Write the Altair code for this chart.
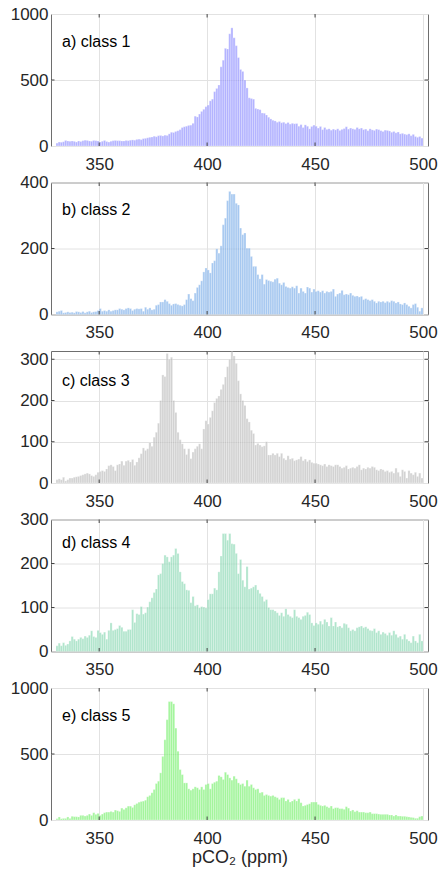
import altair as alt
import pandas as pd

# bin edges: 1-ppm bins from 330 to 500
bin_lo = list(range(330, 500))
bin_hi = [v + 1 for v in bin_lo]

counts_a = [
    22, 30, 28, 32, 42, 38, 36, 38, 35, 30,
    38, 34, 40, 44, 42, 38, 36, 42, 40, 38,
    30, 36, 42, 34, 30, 36, 40, 42, 40, 40,
    38, 38, 42, 40, 44, 46, 44, 50, 52, 48,
    56, 58, 62, 66, 68, 74, 70, 78, 80, 76,
    82, 80, 92, 104, 102, 110, 116, 124, 140, 146,
    150, 156, 158, 172, 226, 220, 242, 262, 278, 298,
    310, 342, 355, 412, 436, 462, 600, 650, 740, 735,
    850, 895, 820, 760, 670, 580, 565, 500, 440, 365,
    360, 355, 285, 280, 275, 250, 248, 235, 218, 205,
    195, 190, 180, 186, 176, 180, 170, 178, 166, 172,
    168, 170, 150, 162, 140, 160, 150, 130, 148, 158,
    150, 136, 148, 124, 140, 126, 130, 120, 128, 122,
    130, 118, 126, 132, 146, 128, 136, 130, 126, 140,
    130, 136, 124, 128, 116, 130, 122, 118, 128, 124,
    116, 110, 120, 118, 114, 104, 110, 100, 106, 92,
    96, 90, 86, 92, 78, 88, 72, 66, 72, 60,
]
counts_b = [
    8, 10, 12, 5, 6, 8, 6, 7, 5, 9,
    8, 6, 9, 5, 8, 10, 6, 8, 9, 12,
    18, 10, 12, 10, 14, 10, 12, 14, 14, 18,
    16, 14, 18, 20, 18, 12, 16, 18, 17, 18,
    10, 22, 16, 20, 14, 16, 28, 30, 38, 38,
    45, 40, 33, 28, 32, 33, 30, 28, 26, 30,
    45, 62, 48, 42, 65, 82, 90, 102, 129, 141,
    135, 126, 156, 163, 199, 186, 208, 272, 292, 345,
    373, 365, 365, 337, 332, 262, 242, 247, 201, 201,
    176, 146, 146, 121, 108, 121, 92, 106, 103, 101,
    99, 107, 110, 95, 90, 97, 85, 82, 80, 84,
    80, 87, 65, 80, 70, 65, 83, 80, 68, 77,
    70, 72, 68, 72, 65, 70, 68, 70, 77, 55,
    62, 65, 73, 60, 62, 60, 65, 58, 55, 56,
    53, 55, 45, 48, 45, 42, 45, 40, 35, 40,
    38, 40, 36, 40, 37, 42, 40, 35, 38, 32,
    30, 35, 30, 25, 20, 30, 33, 22, 10, 20,
]
counts_c = [
    8, 10, 8, 14, 5, 8, 12, 12, 14, 15,
    16, 18, 20, 22, 24, 22, 18, 16, 20, 26,
    28, 30, 28, 34, 42, 44, 40, 30, 44, 46,
    53, 43, 53, 55, 51, 57, 43, 51, 61, 71,
    85, 79, 83, 98, 89, 111, 123, 145, 200, 262,
    258, 314, 300, 305, 200, 171, 123, 105, 95, 83,
    69, 83, 59, 75, 83, 89, 95, 83, 131, 151,
    143, 159, 175, 195, 205, 211, 227, 239, 257, 282,
    300, 318, 308, 290, 248, 216, 200, 188, 156, 148,
    128, 120, 92, 96, 92, 88, 90, 100, 68, 68,
    72, 68, 72, 64, 72, 60, 56, 66, 58, 60,
    54, 56, 58, 64, 54, 58, 52, 56, 50, 48,
    48, 46, 44, 42, 46, 40, 44, 42, 40, 44,
    44, 40, 36, 38, 42, 34, 36, 38, 36, 40,
    44, 32, 36, 34, 38, 36, 40, 38, 32, 30,
    34, 32, 28, 30, 26, 28, 24, 36, 26, 16,
    32, 28, 12, 30, 24, 20, 26, 16, 24, 12,
]
counts_d = [
    13, 19, 13, 20, 14, 17, 24, 34, 28, 24,
    28, 32, 29, 35, 32, 37, 47, 34, 32, 48,
    43, 39, 44, 28, 48, 65, 48, 50, 52, 59,
    55, 46, 46, 50, 50, 95, 66, 86, 84, 102,
    85, 88, 101, 113, 122, 134, 142, 174, 177, 200,
    219, 215, 204, 215, 219, 234, 223, 181, 159, 154,
    140, 139, 111, 125, 104, 106, 99, 102, 101, 99,
    118, 131, 131, 144, 140, 181, 217, 268, 268, 253,
    268, 245, 244, 223, 177, 209, 162, 147, 193, 142,
    144, 147, 151, 140, 132, 125, 114, 118, 100, 95,
    95, 92, 88, 82, 88, 80, 97, 84, 80, 77,
    95, 80, 77, 73, 80, 82, 89, 84, 65, 59,
    65, 62, 69, 62, 73, 67, 58, 77, 58, 67,
    56, 58, 54, 64, 62, 54, 47, 50, 47, 54,
    56, 58, 54, 56, 52, 48, 47, 52, 43, 47,
    39, 44, 41, 37, 43, 37, 47, 39, 32, 35,
    28, 39, 28, 24, 20, 35, 24, 20, 39, 24,
]
counts_e = [
    10, 23, 10, 12, 12, 23, 12, 28, 25, 25,
    23, 35, 35, 30, 35, 45, 35, 55, 43, 50,
    35, 45, 55, 60, 60, 65, 60, 75, 70, 65,
    90, 80, 92, 105, 105, 95, 115, 125, 135, 140,
    143, 150, 176, 186, 206, 231, 276, 294, 357, 482,
    608, 760, 897, 897, 880, 696, 521, 382, 344, 281,
    281, 236, 226, 236, 251, 244, 231, 251, 231, 269,
    276, 236, 276, 286, 294, 337, 327, 307, 362, 344,
    319, 302, 332, 312, 281, 269, 276, 256, 302, 256,
    269, 244, 231, 236, 206, 211, 186, 193, 186, 181,
    186, 176, 169, 156, 169, 169, 144, 156, 136, 144,
    156, 144, 161, 131, 106, 111, 118, 123, 136, 136,
    136, 118, 111, 106, 111, 101, 93, 106, 86, 93,
    93, 86, 86, 81, 101, 90, 68, 76, 63, 70,
    60, 60, 60, 55, 55, 60, 48, 48, 48, 45,
    43, 43, 43, 43, 38, 38, 30, 38, 30, 30,
    28, 28, 25, 23, 20, 18, 13, 13, 25, 30,
]

counts = [counts_a, counts_b, counts_c, counts_d, counts_e]
labels = ["a) class 1", "b) class 2", "c) class 3", "d) class 4", "e) class 5"]
colors = ["#8080ff", "#6ba3e6", "#b4b4b4", "#7bd4aa", "#66ee5a"]
y_max = [1000, 400, 320, 300, 1000]
y_ticks = [[0, 500, 1000], [0, 200, 400], [0, 100, 200, 300], [0, 100, 200, 300], [0, 500, 1000]]
x_ticks = [350, 400, 450, 500]
x_title = "pCO\u2082 (ppm)"
label_y = [28, 27.5, 30, 23.5, 28]

W, H = 377, 132
FONT = "Liberation Sans"
TXT = "#262626"


def panel(i):
    df = pd.DataFrame({"lo": bin_lo, "hi": bin_hi, "n": counts[i]})
    xs = alt.Scale(domain=[330, 500], nice=False, zero=False)
    ys = alt.Scale(domain=[0, y_max[i]], nice=False)
    xaxis = alt.Axis(values=x_ticks, grid=True, labelPadding=10, labelFlush=False, format="d")
    bars = alt.Chart(df).mark_bar(
        color=colors[i], fillOpacity=0.6, stroke="white", strokeWidth=0.4, strokeOpacity=0.7,
        orient="vertical"
    ).encode(
        x=alt.X("lo:Q", scale=xs, axis=xaxis, title=x_title if i == 4 else None),
        x2="hi:Q",
        y=alt.Y("n:Q", scale=ys, axis=alt.Axis(values=y_ticks[i], grid=True, labelPadding=3, format="d"),
                title=None),
        y2=alt.datum(0),
    )
    tdf = pd.DataFrame({"label": [labels[i]]})
    text = alt.Chart(tdf).mark_text(
        align="left", baseline="middle", font=FONT, fontSize=16, color="#000000"
    ).encode(x=alt.value(11), y=alt.value(label_y[i]), text="label:N")

    xt = pd.DataFrame({"v": x_ticks[:-1]})
    tick_b = alt.Chart(xt).mark_rule(color="#444", strokeWidth=1).encode(
        x=alt.X("v:Q", scale=xs), y=alt.value(H), y2=alt.value(H - 3.5))
    tick_t = alt.Chart(xt).mark_rule(color="#444", strokeWidth=1).encode(
        x=alt.X("v:Q", scale=xs), y=alt.value(0), y2=alt.value(3.5))
    yt = pd.DataFrame({"v": [t for t in y_ticks[i] if 0 < t < y_max[i]]})
    tick_l = alt.Chart(yt).mark_rule(color="#444", strokeWidth=1).encode(
        y=alt.Y("v:Q", scale=ys), x=alt.value(0), x2=alt.value(3.5))
    tick_r = alt.Chart(yt).mark_rule(color="#444", strokeWidth=1).encode(
        y=alt.Y("v:Q", scale=ys), x=alt.value(W), x2=alt.value(W - 3.5))
    return alt.layer(bars, tick_b, tick_t, tick_l, tick_r, text).properties(width=W, height=H)


chart = alt.vconcat(*[panel(i) for i in range(5)], spacing=36.5, bounds="flush").properties(
    padding={"left": 9, "top": 4, "right": 4, "bottom": 4},
    background="white"
).configure_view(
    stroke="#6e6e6e", strokeWidth=1
).configure_axis(
    labelFont=FONT, labelFontSize=17, labelColor=TXT, titleFont=FONT, titleFontSize=18,
    titleColor=TXT, titleFontWeight="normal", domain=False, ticks=False,
    gridColor="#e2e2e2", gridWidth=1, titlePadding=2
)

chart.save("out.html", embed_options={"renderer": "svg", "actions": False})
